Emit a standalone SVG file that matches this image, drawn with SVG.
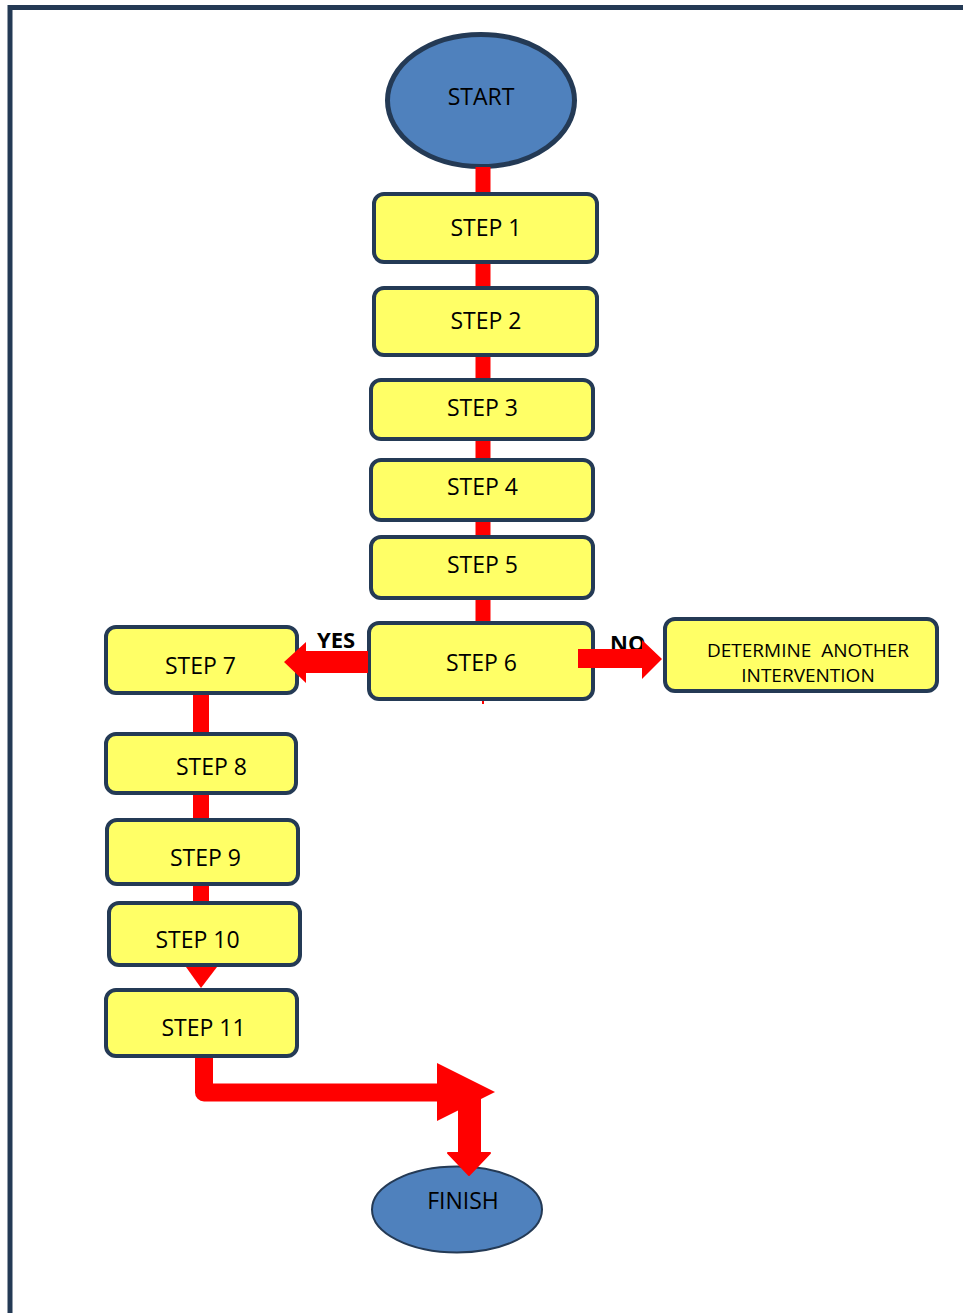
<svg xmlns="http://www.w3.org/2000/svg" width="963" height="1313" viewBox="0 0 963 1313">
<defs>
<style>
.box{fill:#ffff66;stroke:#243a55;stroke-width:4}
.term{fill:#4f81bd;stroke:#243a55}
.t{font-family:"Open Sans","Liberation Sans",sans-serif;font-size:23px;fill:#000;text-anchor:middle}
.s{font-size:19px}
.lbl{font-family:"Open Sans","Liberation Sans",sans-serif;font-size:22px;font-weight:bold;fill:#000}
.ln{stroke:#ff0000;stroke-width:15;fill:none}
.ar{fill:#ff0000}
</style>
</defs>
<rect width="963" height="1313" fill="#ffffff"/>
<path d="M10 1313 V7.5 H963" fill="none" stroke="#243a55" stroke-width="5"/>

<g id="start"><ellipse class="term" cx="481" cy="100.5" rx="93.5" ry="66" stroke-width="5"/><text class="t" x="481" y="105">START</text></g>
<g id="step1"><rect class="box" x="374" y="194" width="223" height="68" rx="10"/><text class="t" x="486" y="236">STEP 1</text></g>
<g id="step2"><rect class="box" x="374" y="288" width="223" height="67" rx="10"/><text class="t" x="486" y="329">STEP 2</text></g>
<g id="step3"><rect class="box" x="371" y="380" width="222" height="59" rx="10"/><text class="t" x="482.5" y="416">STEP 3</text></g>
<g id="step4"><rect class="box" x="371" y="460" width="222" height="60" rx="10"/><text class="t" x="482.5" y="495">STEP 4</text></g>
<g id="step5"><rect class="box" x="371" y="537" width="222" height="61" rx="10"/><text class="t" x="482.5" y="573">STEP 5</text></g>
<g id="step6"><rect class="box" x="369" y="623" width="224" height="76" rx="10"/><text class="t" x="481.5" y="671">STEP 6</text></g>
<g id="determine"><rect class="box" x="665" y="619" width="272" height="72" rx="10"/><text class="t s" x="808" y="657" xml:space="preserve">DETERMINE  ANOTHER</text><text class="t s" x="808" y="682">INTERVENTION</text></g>
<g id="step7"><rect class="box" x="106" y="627" width="191" height="66" rx="10"/><text class="t" x="200.5" y="674">STEP 7</text></g>
<g id="step8"><rect class="box" x="106" y="734" width="190" height="59" rx="10"/><text class="t" x="211.5" y="775">STEP 8</text></g>
<g id="step9"><rect class="box" x="107" y="820" width="191" height="64" rx="10"/><text class="t" x="205.5" y="866">STEP 9</text></g>
<g id="step10"><rect class="box" x="109" y="903" width="191" height="62" rx="10"/><text class="t" x="197.5" y="948">STEP 10</text></g>
<g id="step11"><rect class="box" x="106" y="990" width="191" height="66" rx="10"/><text class="t" x="203.5" y="1036">STEP 11</text></g>
<g id="finish"><ellipse class="term" cx="457" cy="1209.5" rx="85" ry="43" stroke-width="2"/><text class="t" x="463" y="1209">FINISH</text></g>

<g id="labels">
<text class="lbl" x="317" y="648">YES</text>
<text class="lbl" x="610" y="651">NO</text>
</g>

<g id="connectors">
<path class="ln" d="M483 167 V192 M483 264 V286 M483 357 V378 M483 441 V458 M483 522 V535 M483 600 V621"/>
<path d="M483 701 V704" stroke="#ff0000" stroke-width="2"/>
<path class="ln" style="stroke-width:16" d="M201 695 V732 M201 795 V818 M201 886 V901"/>
<polygon class="ar" points="186,967 217,967 201,988"/>
<polygon class="ar" points="368,651 306,651 306,642 284,662 306,683 306,673 368,673"/>
<polygon class="ar" points="578,649 642,649 642,640 662,659 642,679 642,668 578,668"/>
<path d="M204 1058 V1092.5 H440" fill="none" stroke="#ff0000" stroke-width="18" stroke-linejoin="round"/>
<polygon class="ar" points="437,1063 495,1092 437,1121"/>
<rect class="ar" x="458" y="1090" width="23" height="65"/>
<polygon class="ar" points="448,1153 490,1153 469,1175" stroke="#ff0000" stroke-width="2" stroke-linejoin="round"/>
</g>
</svg>
